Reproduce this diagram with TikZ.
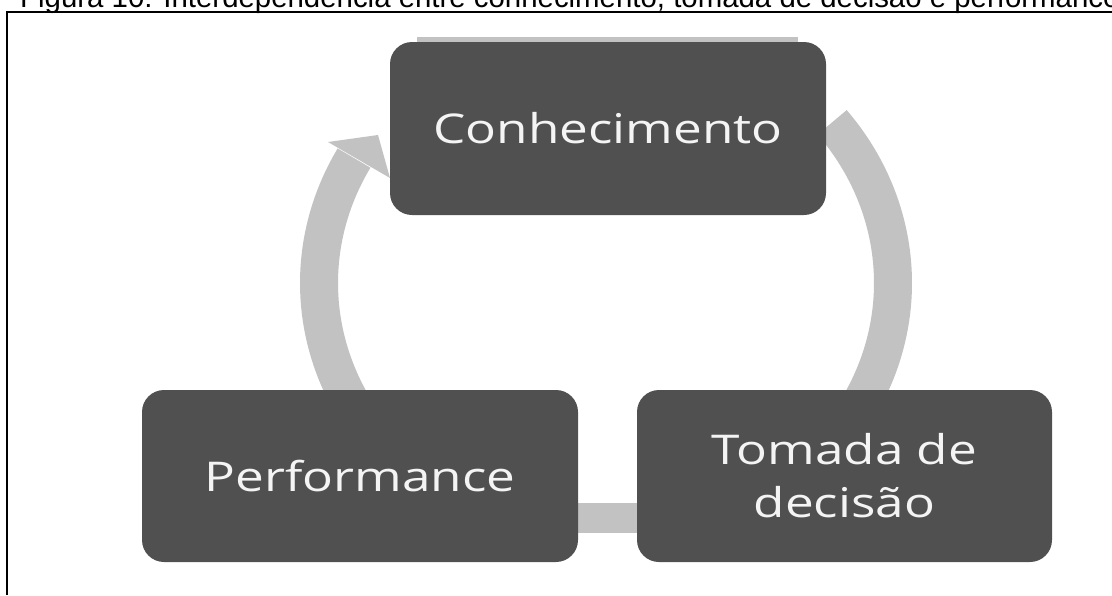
\documentclass[tikz,border=0pt]{standalone}
\usepackage{fontspec}
\setmainfont{Liberation Sans}
\newfontfamily\boxfont[FakeStretch=1.25]{Open Sans}
\usetikzlibrary{backgrounds,calc}
\definecolor{boxgray}{HTML}{505050}
\definecolor{ringgray}{HTML}{C2C2C2}
\definecolor{boxtext}{HTML}{F4F4F4}
\tikzset{
  stage/.style={draw=none, fill=boxgray, rounded corners=22pt, inner sep=0pt,
    text=boxtext, font=\boxfont\fontsize{41}{53}\selectfont, align=center},
  ring/.style={draw=ringgray, line width=38pt},
  link/.style={draw=ringgray, line width=30pt},
  frameline/.style={draw=black, line width=2pt},
}
\begin{document}
\begin{tikzpicture}[x=1pt,y=-1pt]
\useasboundingbox (0,0) rectangle (1112,595);

% caption, clipped by the page edge
\node[anchor=base west, inner sep=0pt, font=\fontsize{29.4}{35}\selectfont] (title) at (20,7)
  {Figura 10: Interdependência entre conhecimento, tomada de decisão e performance};

% open frame (left and top sides)
\draw[frameline] (7,595) -- (7,12) -- (1112,12);

% the three stages of the cycle
\node[stage, minimum width=436pt, minimum height=173pt] (know) at (608,128.5) {Conhecimento};
\node[stage, minimum width=436pt, minimum height=172pt] (perf) at (360,476) {Performance};
\node[stage, minimum width=415pt, minimum height=172pt] (dec) at (844.5,476) {Tomada de\\decisão};

% centre of the cycle ring
\coordinate (hub) at (606,283);

\begin{scope}[on background layer]
  % band behind the top edge of the first stage
  \fill[ringgray] ($(know.north west)+(27,-5)$) rectangle ($(know.north east)+(-28,10)$);
  % Conhecimento -> Tomada de decisão
  \draw[ring] ($(hub)+(-38:287 and 261)$) arc[start angle=-38, end angle=30, x radius=287, y radius=261];
  % Tomada de decisão -> Performance
  \draw[link] (dec.center |- 0,518) -- (perf.center |- 0,518);
  % Performance -> Conhecimento, with arrow head
  \draw[ring] ($(hub)+(150:287 and 261)$) arc[start angle=150, end angle=208.6, x radius=287, y radius=261];
  \fill[ringgray] (328,142) -- (378,135) -- (390,178) -- cycle;
\end{scope}
\end{tikzpicture}
\end{document}
